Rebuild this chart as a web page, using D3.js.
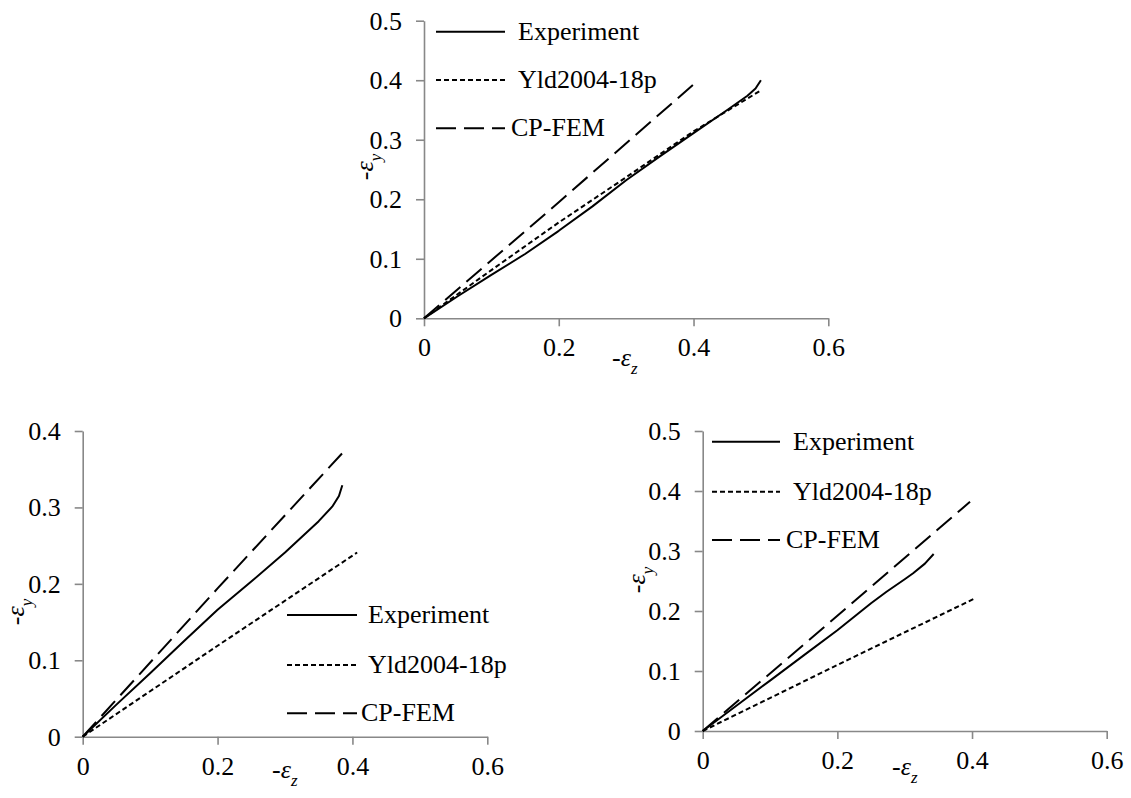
<!DOCTYPE html>
<html><head><meta charset="utf-8">
<script src="https://cdn.jsdelivr.net/npm/d3@7"></script>
</head><body style="margin:0;background:#fff">
<svg id="c" width="1131" height="798"></svg>
<script>
// ---------- data ----------
const seriesNames = ["Experiment", "Yld2004-18p", "CP-FEM"];
const xTicks = [0, 0.2, 0.4, 0.6];
const yTicksTop = [0, 0.1, 0.2, 0.3, 0.4, 0.5];
const yTicksBL = [0, 0.1, 0.2, 0.3, 0.4];
const yTicksBR = [0, 0.1, 0.2, 0.3, 0.4, 0.5];

// top panel
const topExpX = [0, 0.05, 0.1, 0.15, 0.2, 0.25, 0.3, 0.35, 0.4, 0.45, 0.48, 0.492, 0.5];
const topExpY = [0, 0.037, 0.073, 0.108, 0.147, 0.188, 0.232, 0.272, 0.311, 0.350, 0.374, 0.386, 0.400];
const topYldX = [0, 0.1, 0.2, 0.3, 0.4, 0.5];
const topYldY = [0, 0.081, 0.161, 0.237, 0.314, 0.383];
const topCpX = [0, 0.2, 0.4];
const topCpY = [0, 0.195, 0.393];

// bottom-left panel
const blExpX = [0, 0.05, 0.1, 0.15, 0.2, 0.25, 0.3, 0.35, 0.37, 0.38, 0.385];
const blExpY = [0, 0.042, 0.083, 0.125, 0.166, 0.203, 0.241, 0.282, 0.301, 0.315, 0.329];
const blYldX = [0, 0.2, 0.407];
const blYldY = [0, 0.119, 0.241];
const blCpX = [0, 0.2, 0.386];
const blCpY = [0, 0.194, 0.372];

// bottom-right panel
const brExpX = [0, 0.05, 0.1, 0.15, 0.2, 0.25, 0.273, 0.3, 0.3125, 0.33, 0.343];
const brExpY = [0, 0.042, 0.084, 0.126, 0.168, 0.213, 0.232, 0.253, 0.263, 0.279, 0.295];
const brYldX = [0, 0.2, 0.404];
const brYldY = [0, 0.110, 0.221];
const brCpX = [0, 0.2, 0.397];
const brCpY = [0, 0.192, 0.382];

// ---------- layout ----------
const FONT = "'Liberation Serif'";
const svg = d3.select("#c");
const dashes = [null, "5,3", "20,8"];
const axisColor = "#888888";
const fmt = d => d === 0 ? "0" : d3.format(".1f")(d);

const panels = [
  {x0: 424, x1: 828.3, y0: 318.3, y1: 20.7, yMax: 0.5, yTicks: yTicksTop,
   series: [[topExpX, topExpY], [topYldX, topYldY], [topCpX, topCpY]],
   legend: {lx0: 436, lx1: 505, tx: 518, rows: [31.7, 80, 128.3]},
   xlab: [612, 366], ylab: [373, 167]},
  {x0: 82.7, x1: 487.3, y0: 736.7, y1: 431, yMax: 0.4, yTicks: yTicksBL,
   series: [[blExpX, blExpY], [blYldX, blYldY], [blCpX, blCpY]],
   legend: {lx0: 287, lx1: 357, tx: 368, rows: [615, 665, 713.3]},
   xlab: [272, 778], ylab: [23.5, 612]},
  {x0: 702.7, x1: 1106.7, y0: 731, y1: 431, yMax: 0.5, yTicks: yTicksBR,
   series: [[brExpX, brExpY], [brYldX, brYldY], [brCpX, brCpY]],
   legend: {lx0: 712, lx1: 780, tx: 793, rows: [441.7, 491.7, 540]},
   xlab: [892, 775], ylab: [645, 580]}
];

const styleText = sel => sel.style("font-family", FONT).attr("font-size", 26).attr("fill", "#000");
const eps = (sel, sub) => {
  sel.append("tspan").text("-");
  sel.append("tspan").attr("font-style", "italic").text("ε");
  sel.append("tspan").attr("font-style", "italic").attr("font-size", 17).attr("dy", 8).text(sub);
};

panels.forEach(p => {
  const x = d3.scaleLinear().domain([0, 0.6]).range([p.x0, p.x1]);
  const y = d3.scaleLinear().domain([0, p.yMax]).range([p.y0, p.y1]);
  const g = svg.append("g").style("font-family", FONT);

  const ya = g.append("g").attr("transform", `translate(${p.x0},0)`)
    .call(d3.axisLeft(y).tickValues(p.yTicks).tickFormat(fmt).tickSize(8).tickSizeOuter(0).tickPadding(14));
  const xa = g.append("g").attr("transform", `translate(0,${p.y0})`)
    .call(d3.axisBottom(x).tickValues(xTicks).tickFormat(fmt).tickSize(8).tickSizeOuter(0));
  [ya, xa].forEach(a => {
    a.attr("font-family", null).attr("font-size", null);
    a.select(".domain").attr("stroke", axisColor).attr("stroke-width", 1.6);
    a.selectAll(".tick line").attr("stroke", axisColor).attr("stroke-width", 1.6);
    styleText(a.selectAll(".tick text"));
  });
  xa.selectAll(".tick text").attr("y", 38).attr("dy", 0);

  const line = d3.line().x(d => x(d[0])).y(d => y(d[1]));
  p.series.forEach((s, i) => {
    const pts = s[0].map((v, k) => [v, s[1][k]]);
    g.append("path").datum(pts).attr("d", line)
      .attr("fill", "none").attr("stroke", "#000").attr("stroke-width", 2)
      .attr("stroke-dasharray", dashes[i]).attr("stroke-linejoin", "round");
  });

  seriesNames.forEach((name, i) => {
    const ry = p.legend.rows[i];
    g.append("line").attr("x1", p.legend.lx0).attr("x2", p.legend.lx1)
      .attr("y1", ry).attr("y2", ry).attr("stroke", "#000").attr("stroke-width", 2)
      .attr("stroke-dasharray", dashes[i]);
    styleText(g.append("text").attr("x", p.legend.tx - (i === 2 ? 7 : 0)).attr("y", ry + 8)).text(name);
  });

  eps(styleText(g.append("text").attr("x", p.xlab[0]).attr("y", p.xlab[1])), "z");
  eps(styleText(g.append("text")).attr("text-anchor", "middle")
    .attr("transform", `translate(${p.ylab[0]},${p.ylab[1]}) rotate(-90)`), "y");
});
</script>
</body></html>
